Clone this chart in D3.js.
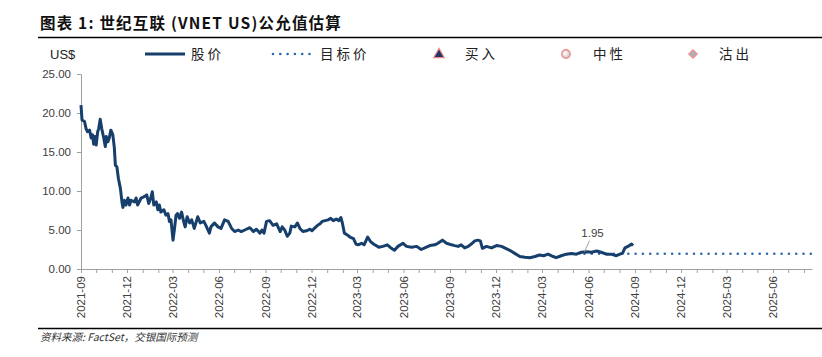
<!DOCTYPE html>
<html><head><meta charset="utf-8">
<script src="https://cdn.jsdelivr.net/npm/d3@7"></script>
<style>
body{margin:0;background:#fff;}
svg{display:block;}
</style></head><body>
<svg id="c" width="822" height="357"></svg>
<script>
const priceDates = ["2021-09-01","2021-09-03","2021-09-08","2021-09-11","2021-09-14","2021-09-18","2021-09-21","2021-09-24","2021-09-26","2021-09-29",
"2021-10-01","2021-10-04","2021-10-06","2021-10-09","2021-10-12","2021-10-16","2021-10-19","2021-10-21","2021-10-24","2021-10-27","2021-10-30",
"2021-11-03","2021-11-06","2021-11-08","2021-11-11","2021-11-14","2021-11-18","2021-11-21","2021-11-23","2021-11-26","2021-11-29",
"2021-12-03","2021-12-06","2021-12-09","2021-12-16","2021-12-19","2021-12-22","2021-12-29",
"2022-01-05","2022-01-09","2022-01-13","2022-01-17","2022-01-20","2022-01-23","2022-01-28","2022-01-31",
"2022-02-03","2022-02-06","2022-02-12","2022-02-16","2022-02-20","2022-02-23","2022-02-26",
"2022-03-02","2022-03-05","2022-03-08","2022-03-11","2022-03-15","2022-03-19","2022-03-23","2022-03-26","2022-03-30",
"2022-04-04","2022-04-08","2022-04-13","2022-04-20","2022-04-25","2022-05-02","2022-05-06","2022-05-13","2022-05-16","2022-05-23","2022-05-30",
"2022-06-05","2022-06-12","2022-06-19","2022-06-26","2022-07-02","2022-07-09","2022-07-15","2022-07-22","2022-08-01","2022-08-08","2022-08-14","2022-08-21","2022-08-25","2022-08-29",
"2022-09-03","2022-09-09","2022-09-16","2022-09-23","2022-09-30","2022-10-04","2022-10-09","2022-10-14","2022-10-19","2022-10-22","2022-10-29",
"2022-11-03","2022-11-08","2022-11-14","2022-11-21","2022-11-28","2022-12-02","2022-12-08","2022-12-13","2022-12-18","2022-12-22","2022-12-28",
"2023-01-03","2023-01-08","2023-01-13","2023-01-19","2023-01-24","2023-01-28","2023-01-31","2023-02-04","2023-02-09","2023-02-15","2023-02-22","2023-02-27",
"2023-03-03","2023-03-10","2023-03-15","2023-03-22","2023-03-28","2023-04-05","2023-04-13","2023-04-21","2023-04-30","2023-05-08","2023-05-14","2023-05-21","2023-05-31",
"2023-06-07","2023-06-17","2023-06-27","2023-07-06","2023-07-13","2023-07-23","2023-08-02","2023-08-08","2023-08-17","2023-08-25",
"2023-09-04","2023-09-10","2023-09-17","2023-09-23","2023-09-30","2023-10-07","2023-10-13","2023-10-20","2023-10-26","2023-10-31",
"2023-11-04","2023-11-12","2023-11-22","2023-12-02","2023-12-12","2023-12-20","2023-12-28",
"2024-01-07","2024-01-17","2024-01-27","2024-02-06","2024-02-16","2024-02-25","2024-03-04","2024-03-13","2024-03-23","2024-03-29",
"2024-04-08","2024-04-18","2024-04-28","2024-05-08","2024-05-18","2024-05-28","2024-06-07","2024-06-17","2024-06-26",
"2024-07-06","2024-07-16","2024-07-26","2024-08-02","2024-08-07","2024-08-12","2024-08-18","2024-08-25","2024-08-28"];
const priceValues = [21.0,19.1,18.9,18.0,17.6,17.8,16.8,17.2,16.0,17.0,
15.9,17.6,18.0,19.2,18.0,16.8,15.7,17.0,16.3,16.8,17.8,
17.2,15.5,13.3,13.1,11.6,10.3,8.6,7.9,8.8,8.2,
9.1,8.2,8.8,8.6,9.1,8.2,9.1,
9.3,9.5,8.4,9.1,9.9,8.2,8.6,7.6,
8.2,7.3,7.6,6.9,7.1,6.1,6.3,
3.7,5.2,6.9,7.1,6.5,7.3,6.1,5.4,6.7,
5.9,6.3,5.2,6.7,5.9,6.1,5.6,4.6,5.4,5.9,5.4,
5.2,6.3,6.1,5.2,4.8,5.0,4.8,5.0,5.3,4.8,5.1,4.6,5.0,4.6,
6.1,6.2,5.6,5.8,4.8,5.4,5.0,4.2,4.6,5.5,5.4,
5.9,5.2,4.8,4.9,5.1,4.9,5.3,5.6,5.8,6.1,6.2,
6.3,6.5,6.2,6.4,6.2,6.6,5.9,4.6,4.4,4.1,3.9,3.2,
3.1,3.3,3.1,4.1,3.5,3.1,2.8,2.9,3.1,2.65,2.4,2.9,3.3,
2.9,2.8,2.9,2.5,2.7,3.0,3.1,3.3,3.7,3.3,
3.1,3.0,2.9,3.1,2.7,2.9,3.2,3.6,3.7,3.6,
2.65,2.9,2.7,3.0,2.9,2.65,2.4,
2.0,1.6,1.5,1.45,1.6,1.8,1.7,1.9,1.6,1.45,
1.7,1.9,2.0,1.9,2.15,2.2,2.15,2.3,2.15,
1.9,1.9,1.7,1.9,2.0,2.7,2.9,3.2,3.0];
const targetDates = ["2024-05-24","2025-08-17"];
const targetValues = [1.95,1.95];
const xDomain = ["2021-09-01","2025-08-17"];
const yTicks = [0,5,10,15,20,25];
const xTickLabels = ["2021-09","2021-12","2022-03","2022-06","2022-09","2022-12","2023-03","2023-06","2023-09","2023-12","2024-03","2024-06","2024-09","2024-12","2025-03","2025-06"];
const titleText = "图表 1: 世纪互联 (VNET US)公允值估算";
const unitText = "US$";
const legendLabels = ["股价","目标价","买入","中性","沽出"];
const sourceText = "资料来源: FactSet，交银国际预测";
const annotationText = "1.95";

const parse = d3.utcParse("%Y-%m-%d");
const parseM = d3.utcParse("%Y-%m");
const svg = d3.select("#c");
const navy = "#173f6c", dotBlue = "#2b68ad", axisCol = "#a0a0a0", textCol = "#404040";

const x = d3.scaleUtc().domain(xDomain.map(parse)).range([81, 812]);
const y = d3.scaleLinear().domain([0, 25]).range([269, 74]);

// title & rules
svg.append("text").attr("x", 40).attr("y", 29)
  .style("font-family", "'Noto Sans CJK SC'").style("font-weight", "bold")
  .style("font-size", "15.5px").style("letter-spacing", "1.2px").attr("fill", "#111").text(titleText);
svg.append("line").attr("x1", 38).attr("x2", 822).attr("y1", 37.5).attr("y2", 37.5).attr("stroke", "#000").attr("stroke-width", 1.6);
svg.append("line").attr("x1", 38).attr("x2", 822).attr("y1", 328.5).attr("y2", 328.5).attr("stroke", "#000").attr("stroke-width", 1.6);
svg.append("text").attr("x", 40).attr("y", 341)
  .style("font-family", "'Noto Sans CJK SC'").style("font-style", "italic")
  .style("font-size", "10.5px").attr("fill", "#333").text(sourceText);

// legend
const lg = svg.append("g");
const ly = 54;
lg.append("text").attr("x", 50).attr("y", ly + 4.5).style("font-family", "'Liberation Sans'").style("font-size", "13px").attr("fill", "#222").text(unitText);
const legFont = s => s.style("font-family", "'Noto Sans CJK SC'").style("font-size", "13.5px").style("letter-spacing", "3px").attr("fill", "#222");
lg.append("line").attr("x1", 145).attr("x2", 185).attr("y1", ly).attr("y2", ly).attr("stroke", navy).attr("stroke-width", 3);
lg.append("text").attr("x", 191).attr("y", ly + 5).call(legFont).text(legendLabels[0]);
lg.append("line").attr("x1", 273).attr("x2", 312).attr("y1", ly).attr("y2", ly).attr("stroke", dotBlue).attr("stroke-width", 2.6)
  .attr("stroke-linecap", "round").attr("stroke-dasharray", "0 7.3");
lg.append("text").attr("x", 320).attr("y", ly + 5).call(legFont).text(legendLabels[1]);
const defs = svg.append("defs");
const rg = defs.append("radialGradient").attr("id", "cg").attr("cx", "40%").attr("cy", "40%").attr("r", "60%");
rg.append("stop").attr("offset", "0%").attr("stop-color", "#ffffff");
rg.append("stop").attr("offset", "100%").attr("stop-color", "#c8c8c8");
lg.append("path").attr("d", d3.symbol(d3.symbolTriangle, 48)()).attr("transform", `translate(439,${ly + 0.5})`)
  .attr("fill", "#1f3864").attr("stroke", "#f08a8a").attr("stroke-width", 1.2);
lg.append("text").attr("x", 465).attr("y", ly + 5).call(legFont).text(legendLabels[2]);
lg.append("circle").attr("cx", 566).attr("cy", ly).attr("r", 4.2).attr("fill", "url(#cg)").attr("stroke", "#f08a8a").attr("stroke-width", 1.4);
lg.append("text").attr("x", 593).attr("y", ly + 5).call(legFont).text(legendLabels[3]);
lg.append("path").attr("d", d3.symbol(d3.symbolSquare, 36)()).attr("transform", `translate(693,${ly}) rotate(45)`)
  .attr("fill", "#a9b4b8").attr("stroke", "#f08a8a").attr("stroke-width", 1.2);
lg.append("text").attr("x", 719).attr("y", ly + 5).call(legFont).text(legendLabels[4]);

// y axis
const ya = svg.append("g").attr("transform", "translate(81,0)")
  .call(d3.axisLeft(y).tickValues(yTicks).tickFormat(d => d.toFixed(2)).tickSizeOuter(0).tickSizeInner(4).tickPadding(6));
ya.select(".domain").attr("stroke", axisCol);
ya.selectAll(".tick line").attr("stroke", axisCol);
ya.selectAll("text").style("font-family", "'Liberation Sans'").style("font-size", "11.5px").attr("fill", textCol);

// x axis minor (monthly)
const months = d3.utcMonth.range(parse(xDomain[0]), parse(xDomain[1]));
const xa = svg.append("g").attr("transform", "translate(0,269)")
  .call(d3.axisBottom(x).tickValues(months).tickFormat("").tickSizeOuter(0).tickSizeInner(4));
xa.select(".domain").attr("stroke", axisCol);
xa.selectAll(".tick line").attr("stroke", axisCol);
// labels
svg.append("g").selectAll("text").data(xTickLabels).join("text")
  .attr("transform", d => `translate(${x(parseM(d))},276) rotate(-90)`)
  .attr("text-anchor", "end").attr("dy", "0.35em")
  .style("font-family", "'Liberation Sans'").style("font-size", "11.5px").attr("fill", textCol)
  .text(d => d);

// target line
const tData = targetDates.map((d, i) => ({ d: parse(d), v: targetValues[i] }));
svg.append("path").datum(tData)
  .attr("d", d3.line().x(p => x(p.d)).y(p => y(p.v)))
  .attr("fill", "none").attr("stroke", dotBlue).attr("stroke-width", 2.6)
  .attr("stroke-linecap", "round").attr("stroke-dasharray", "0 7.3");

// price line
const pData = priceDates.map((d, i) => ({ d: parse(d), v: priceValues[i] }));
svg.append("path").datum(pData)
  .attr("d", d3.line().x(p => x(p.d)).y(p => y(p.v)))
  .attr("fill", "none").attr("stroke", navy).attr("stroke-width", 3).attr("stroke-linejoin", "round");

// annotation
const ax = x(tData[0].d), ay = y(tData[0].v);
svg.append("line").attr("x1", ax).attr("y1", ay - 2).attr("x2", ax + 5).attr("y2", ay - 13).attr("stroke", "#a0a0a0").attr("stroke-width", 1);
svg.append("text").attr("x", ax + 8).attr("y", ay - 17).attr("text-anchor", "middle")
  .style("font-family", "'Liberation Sans'").style("font-size", "11.5px").attr("fill", textCol).text(annotationText);
</script>
</body></html>
